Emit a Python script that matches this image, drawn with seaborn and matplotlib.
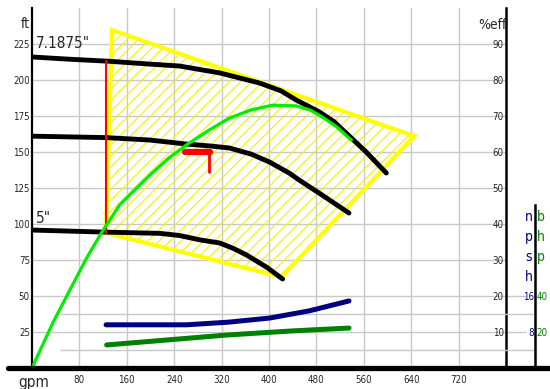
import matplotlib.pyplot as plt
import matplotlib.font_manager as fm
from matplotlib.lines import Line2D
import pandas as pd
import seaborn as sns

# head curves, ft against gpm
big_gpm = [0, 60, 131, 200, 249, 317, 384, 420, 446, 485, 510, 530, 564, 598]
big_ft = [216, 214.5, 213, 211, 209.7, 204.9, 197.9, 192.5, 186.1, 177.8, 171, 163.2, 150, 135.4]
mid_gpm = [0, 125, 199, 261, 300, 333, 370, 401, 434, 451, 490, 535]
mid_ft = [161, 160, 158.3, 155.5, 154.2, 152.8, 148.5, 143, 135.4, 130.5, 120, 107.6]
small_gpm = [0, 120, 216, 249, 283, 317, 340, 362, 396, 423]
small_ft = [95.8, 94.4, 93.5, 92, 89, 86.8, 83, 78.5, 70, 61.8]

# efficiency, %
eff_gpm = [0, 35, 64, 93, 120, 148, 199, 230, 261, 300, 333, 370, 406, 446, 470, 490, 514, 539]
eff_pct = [0, 12.5, 21.7, 30.8, 38.3, 45.3, 53.6, 58.2, 62, 66.2, 69.4, 71.7, 73, 72.8, 71.6, 69.7, 67, 63.3]

# npsh (ft) and bhp
npsh_gpm = [125, 261, 333, 401, 468, 535]
npsh_val = [9.6, 9.6, 10.2, 11.1, 12.7, 14.9]
bhp_gpm = [126, 328, 439, 535]
bhp_val = [12.8, 18.3, 20.6, 22.2]

# operating region and selection marks
region_gpm = [135, 645, 421, 125]
region_ft = [234.7, 161, 63.2, 93.75]
cut_gpm = [125, 125]
cut_ft = [93.75, 213]
flag_gpm = [258, 300]
flag_ft = [150, 150]
stem_gpm = [298, 298]
stem_ft = [150, 136]

x_ticks = [80, 160, 240, 320, 400, 480, 560, 640, 720]
ft_ticks = [25, 50, 75, 100, 125, 150, 175, 200, 225]
eff_ticks = [10, 20, 30, 40, 50, 60, 70, 80, 90]
npsh_ticks = [8, 16]
bhp_ticks = [20, 40]

sns.set_style('white')
names = {f.name for f in fm.fontManager.ttflist}
if 'Liberation Sans Narrow' in names:
    plt.rcParams['font.family'] = ['Liberation Sans Narrow', 'DejaVu Sans']
else:
    plt.rcParams['font.family'] = ['DejaVu Sans']
    plt.rcParams['font.stretch'] = 'condensed'
plt.rcParams['hatch.linewidth'] = 0.8

W, H = 550, 389
fig = plt.figure(figsize=(5.5, 3.89), dpi=100)
ax = fig.add_axes([32 / W, 21 / H, 474 / W, 360 / H])
ax.set_xlim(0, 800)
ax.set_ylim(0, 250)
ax.set_xticks(x_ticks)
ax.set_yticks(ft_ticks)
ax.set_xticklabels([str(t) for t in x_ticks])
ax.set_yticklabels([str(t) for t in ft_ticks])
ax.grid(True, color='#c8c8c8', lw=1)
ax.set_axisbelow(True)
ax.tick_params(axis='x', length=0, labelsize=7, pad=5)
ax.tick_params(axis='y', length=0, labelsize=7, pad=1.5)
for s in ['top', 'right', 'bottom']:
    ax.spines[s].set_visible(False)
ax.spines['left'].set_color('black')
ax.spines['left'].set_linewidth(1.6)

# extra grid for npsh / bhp scale
gray = '#c8c8c8'
ax.hlines([25, 50], 800, 833, color=gray, lw=1, clip_on=False)

ax.fill(region_gpm, region_ft, facecolor='none', edgecolor='#f2f200', hatch='///', lw=0, zorder=2)
ax.fill(region_gpm, region_ft, facecolor='none', edgecolor='#ffff00', lw=3, zorder=2)

for gx, gy in [(big_gpm, big_ft), (mid_gpm, mid_ft), (small_gpm, small_ft)]:
    sns.lineplot(x=gx, y=gy, ax=ax, color='black', lw=3.5, sort=False, estimator=None, zorder=4)
sns.lineplot(x=cut_gpm, y=cut_ft, ax=ax, color='#ff0000', lw=1.5, sort=False, estimator=None, zorder=5)
sns.lineplot(x=flag_gpm, y=flag_ft, ax=ax, color='#ff0000', lw=4.5, sort=False, estimator=None, zorder=5)
sns.lineplot(x=stem_gpm, y=stem_ft, ax=ax, color='#ff0000', lw=2, sort=False, estimator=None, zorder=5)

ax.text(6, 225, '7.1875"', fontsize=11, ha='left', va='center')
ax.text(6, 103.5, '5"', fontsize=11, ha='left', va='center')
ax.set_xlabel('')
ax.set_ylabel('')

# efficiency axis
ax_eff = ax.twinx()
ax_eff.set_ylim(0, 100)
ax_eff.set_yticks(eff_ticks)
ax_eff.set_yticklabels([str(t) for t in eff_ticks])
ax_eff.yaxis.set_ticks_position('left')
ax_eff.yaxis.set_label_position('left')
for s in ax_eff.spines.values():
    s.set_visible(False)
ax_eff.spines['left'].set_visible(True)
ax_eff.spines['left'].set_position(('axes', 1.0))
ax_eff.spines['left'].set_color('black')
ax_eff.spines['left'].set_linewidth(1.8)
ax_eff.tick_params(axis='y', length=0, labelsize=7, pad=1.5)
sns.lineplot(x=eff_gpm, y=eff_pct, ax=ax_eff, color='#00ee00', lw=2.3, sort=False, estimator=None)
ax_eff.set_ylabel('')

# npsh axis
npsh_pos = 503 / 474
ax_npsh = ax.twinx()
ax_npsh.set_ylim(0, 80)
ax_npsh.set_yticks(npsh_ticks)
ax_npsh.set_yticklabels([str(t) for t in npsh_ticks])
ax_npsh.yaxis.set_ticks_position('left')
for s in ax_npsh.spines.values():
    s.set_visible(False)
ax_npsh.spines['left'].set_visible(True)
ax_npsh.spines['left'].set_position(('axes', npsh_pos))
ax_npsh.spines['left'].set_bounds(0, 36.2)
ax_npsh.spines['left'].set_color('black')
ax_npsh.spines['left'].set_linewidth(1.8)
ax_npsh.tick_params(axis='y', length=0, labelsize=7, pad=1, labelcolor='#000080')
ax_npsh.hlines([4, 12], 47, 847, color=gray, lw=1, clip_on=False, zorder=0)
sns.lineplot(x=npsh_gpm, y=npsh_val, ax=ax_npsh, color='#000080', lw=3.6, sort=False, estimator=None)
ax_npsh.set_ylabel('')

# bhp axis
ax_bhp = ax.twinx()
ax_bhp.set_ylim(0, 200)
ax_bhp.set_yticks(bhp_ticks)
ax_bhp.set_yticklabels([str(t) for t in bhp_ticks])
for s in ax_bhp.spines.values():
    s.set_visible(False)
ax_bhp.spines['right'].set_position(('axes', npsh_pos))
ax_bhp.tick_params(axis='y', length=0, labelsize=7, pad=1, labelcolor='#008000')
sns.lineplot(x=bhp_gpm, y=bhp_val, ax=ax_bhp, color='#008000', lw=3.6, sort=False, estimator=None)
ax_bhp.set_ylabel('')

# thick base line across the figure
fig.add_artist(Line2D([8 / W, 1], [21 / H, 21 / H], color='black', lw=3.8))

fig.text(25 / W, 1 - 24 / H, 'ft', fontsize=10, ha='center', va='center')
fig.text(492 / W, 1 - 25 / H, '%eff', fontsize=10, ha='center', va='center')
fig.text(34 / W, 1 - 383 / H, 'gpm', fontsize=11, ha='center', va='center')
for i, ch in enumerate('npsh'):
    fig.text(529 / W, 1 - (217 + 20 * i) / H, ch, fontsize=10, color='#000080', ha='center', va='center')
for i, ch in enumerate('bhp'):
    fig.text(541 / W, 1 - (217 + 20 * i) / H, ch, fontsize=10, color='#008000', ha='center', va='center')

fig.savefig('out.png', dpi=100)
